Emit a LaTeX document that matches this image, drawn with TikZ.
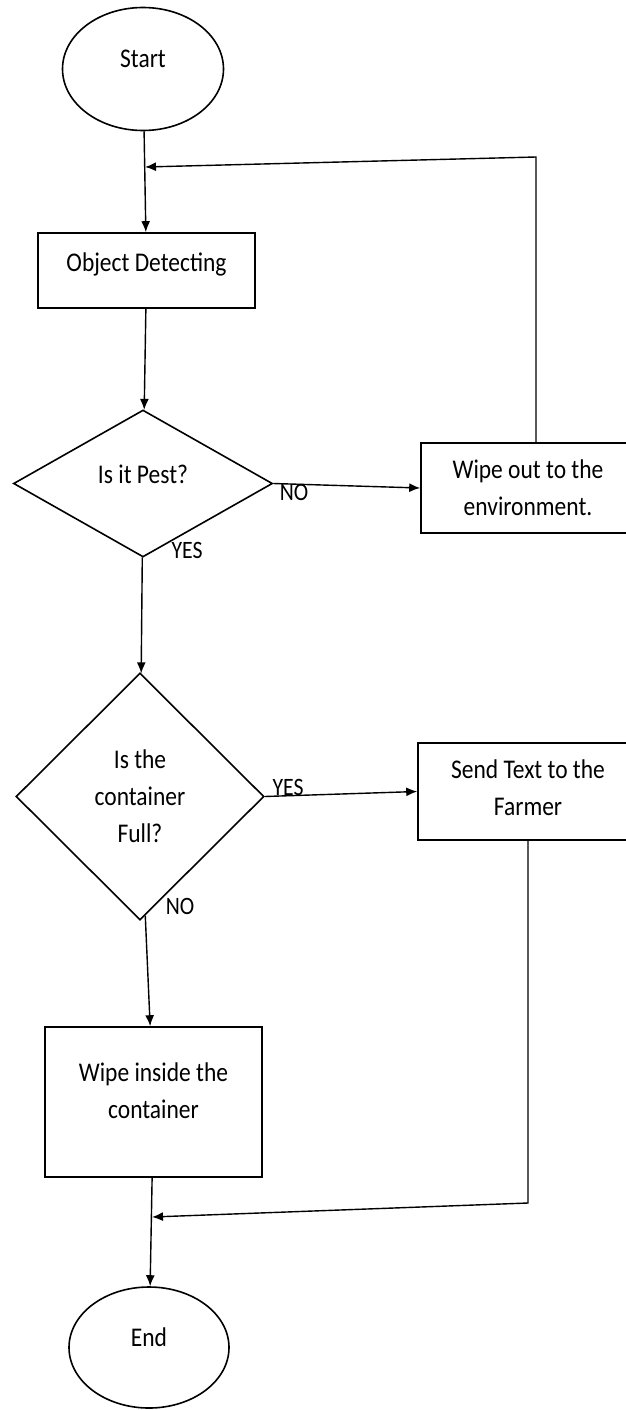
\documentclass[tikz,border=0pt]{standalone}
\usepackage{fontspec}
\setmainfont{Carlito}[FakeStretch=0.87]
\usetikzlibrary{shapes.geometric,arrows.meta}

\begin{document}
\begin{tikzpicture}[x=1pt,y=-1pt,
	shp/.style={draw,line width=1.6pt,inner sep=0pt,align=center,font=\fontsize{27}{37}\selectfont},
	oval/.style={shp,ellipse}, box/.style={shp,rectangle}, ask/.style={shp,diamond},
	lbl/.style={inner sep=0pt,font=\fontsize{25}{30}\selectfont},
	arr/.style={line width=1.4pt,-{Latex[length=11pt,width=9pt]}}]
	\clip (0,0) rectangle (626,1410);
	
	% main column
	\node[oval,minimum width=161pt,minimum height=123pt,text depth=20pt] (start) at (143,69) {Start};
	\node[box,minimum width=217pt,minimum height=75pt,text depth=17pt] (detect) at (146.5,270.5) {Object Detecting};
	\node[ask,minimum width=259pt,minimum height=147pt,text depth=18pt] (pest) at (143,483.5) {Is it Pest?};
	\node[ask,minimum width=248pt,minimum height=247pt] (full) at (140,796.5) {Is the\\container\\Full?};
	\node[box,minimum width=217pt,minimum height=150pt,text depth=22pt] (wipein) at (153.5,1102) {Wipe inside the\\container};
	\node[oval,minimum width=160pt,minimum height=121pt,text depth=21pt] (endn) at (149,1347.5) {End};
	
	% right column
	\node[box,minimum width=214pt,minimum height=90pt] (wipeout) at (528,488) {Wipe out to the\\environment.};
	\node[box,minimum width=220pt,minimum height=97pt,text depth=8pt] (send) at (528,791.5) {Send Text to the\\Farmer};
	
	\coordinate (loopup) at (536,157); \coordinate (loopin) at (145,167);
	\coordinate (sendturn) at (528,1203); \coordinate (endin) at (152,1217);
	
	\draw[arr] (start) -- (detect);
	\draw[arr] (detect) -- (pest);
	\draw[arr] (pest) -- (full);
	\draw[arr] (full) -- (wipein);
	\draw[arr] (wipein) -- (endn);
	\draw[arr] (pest.east) -- (wipeout.west);
	\draw[arr] (full.east) -- (send.west);
	\draw[arr] (wipeout.north -| loopup) -- (loopup) -- (loopin);
	\draw[arr] (send.south) -- (sendturn) -- (endin);
	
	% branch labels
	\node[lbl] (pestno) at (294,492) {NO};
	\node[lbl] (pestyes) at (187,550) {YES};
	\node[lbl] (fullyes) at (288,787) {YES};
	\node[lbl] (fullno) at (180,906) {NO};
\end{tikzpicture}
\end{document}
